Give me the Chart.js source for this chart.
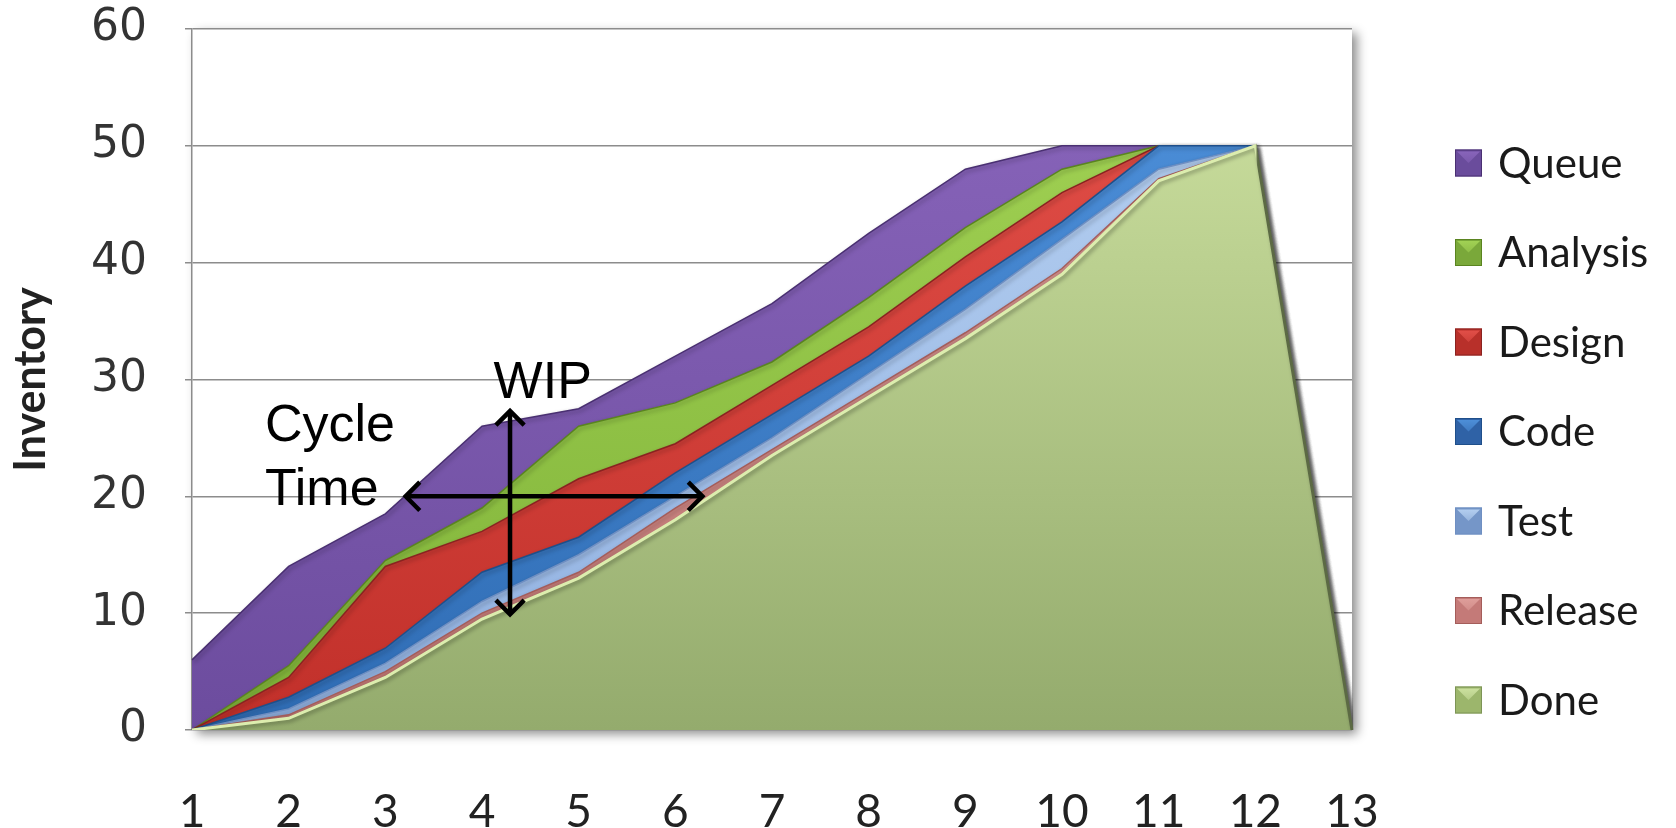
<!DOCTYPE html>
<html>
<head>
<meta charset="utf-8">
<script src="https://cdn.jsdelivr.net/npm/chart.js@4.4.1/dist/chart.umd.min.js"></script>
<style>
html,body{margin:0;padding:0;background:#ffffff;}
#wrap{width:1676px;height:828px;position:relative;}
</style>
</head>
<body>
<div id="wrap"><canvas id="c" width="1676" height="828"></canvas></div>
<script>
// ---- data (band thickness of each stage, stacked from Done upward) ----
const weeks    = ['1','2','3','4','5','6','7','8','9','10','11','12','13'];
const done     = [0, 1, 4.5, 9.5, 13, 18, 23.5, 28.5, 33.5, 39, 47, 50, 0];
const release  = [0, 0.3, 0.5, 0.5, 0.5, 1, 0.5, 0.5, 0.5, 0.5, 0.2, 0, 0];
const test     = [0, 0.5, 0.7, 1, 1.5, 1, 1, 1.5, 2, 2.5, 0.8, 0, 0];
const code     = [0, 1, 1.3, 2.5, 1.5, 2, 2, 1.5, 2, 1.5, 2, 0, 0];
const design   = [0, 1.7, 7, 3.5, 5, 2.5, 2.5, 2.5, 2.5, 2.5, 0, 0, 0];
const analysis = [0, 1, 0.5, 2, 4.5, 3.5, 2, 2.5, 2.5, 2, 0, 0, 0];
const queue    = [6, 8.5, 4, 7, 1.5, 4, 5, 5.5, 5, 2, 0, 0, 0];
const yTicks   = [0, 10, 20, 30, 40, 50, 60];
const seriesNames = ['Done','Release','Test','Code','Design','Analysis','Queue'];

// ---- styles ----
const styles = {
  Done:     {top:'#cfe3a2', bottom:'#94ab6d', line:'#dcedae', edge:'#5c6a44', legend:'#9cb66c'},
  Release:  {top:'#e0a09c', bottom:'#c07572', line:'#a45d5a', legend:'#c47a78'},
  Test:     {top:'#b8d2f2', bottom:'#90b0e0', line:'#6f8fc2', legend:'#7596c8'},
  Code:     {top:'#4f92dc', bottom:'#2f6cb4', line:'#1f4f8a', legend:'#2f62a6'},
  Design:   {top:'#e4514a', bottom:'#c1302a', line:'#8a2320', legend:'#b8302a'},
  Analysis: {top:'#a4d456', bottom:'#7fb238', line:'#5a8420', legend:'#7aa83a'},
  Queue:    {top:'#8a66bc', bottom:'#6c4c9e', line:'#4a3072', legend:'#6a4c9c'}
};
const seriesData = [done, release, test, code, design, analysis, queue];

function grad(name){
  return function(ctx){
    const chart = ctx.chart, a = chart.chartArea;
    const s = styles[name];
    if (!a) return s.bottom;
    const g = chart.ctx.createLinearGradient(0, a.top, 0, a.bottom);
    g.addColorStop(0, s.top);
    g.addColorStop(1, s.bottom);
    return g;
  };
}

const lastIdx = weeks.length - 1;
// Done outline: light highlight along the top, dark edge on the final drop
function doneBorder(c){
  const ch = c.chart, a = ch.chartArea, s = styles.Done;
  if (!a || !ch.scales.x) return s.line;
  const xp = ch.scales.x.getPixelForValue(lastIdx - 1);
  const t = Math.max(0, Math.min(1, (xp - a.left) / (a.right - a.left)));
  const g = ch.ctx.createLinearGradient(a.left, 0, a.right, 0);
  g.addColorStop(0, s.line);
  g.addColorStop(t, s.line);
  g.addColorStop(Math.min(1, t + 0.002), s.edge);
  g.addColorStop(1, s.edge);
  return g;
}

const datasets = seriesNames.map((n, i) => ({
  label: n,
  data: seriesData[i],
  fill: i === 0 ? 'origin' : '-1',
  backgroundColor: grad(n),
  borderColor: n === 'Done' ? doneBorder : styles[n].line,
  borderWidth: n === 'Done' ? 3 : 1.5,
  pointRadius: 0,
  tension: 0
}));

// ---- annotations (in data units) ----
const annot = {
  wip:   {x: 4.29, from: 9.9, to: 27.3},
  cycle: {y: 20, from: 3.21, to: 6.28},
  texts: [
    {text: 'WIP',   x: 4.12,  y: 28.4},
    {text: 'Cycle', x: 1.755, y: 24.7},
    {text: 'Time',  x: 1.755, y: 19.3}
  ]
};

const frameShadow = {
  id: 'frameShadow',
  beforeDraw(chart){
    const {ctx, chartArea: a} = chart;
    ctx.save();
    ctx.shadowColor = 'rgba(0,0,0,0.45)';
    ctx.shadowBlur = 10;
    ctx.shadowOffsetX = 5;
    ctx.shadowOffsetY = 4;
    ctx.fillStyle = '#ffffff';
    ctx.fillRect(a.left, a.top, a.right - a.left, a.bottom - a.top);
    ctx.restore();
  },
  beforeDatasetsDraw(chart){
    const ctx = chart.ctx;
    ctx.save();
    ctx.shadowColor = 'rgba(0,0,0,0.35)';
    ctx.shadowBlur = 4;
    ctx.shadowOffsetX = 2;
    ctx.shadowOffsetY = 2;
  },
  afterDatasetsDraw(chart){
    chart.ctx.restore();
  }
};

function arrowHead(ctx, x, y, ang){
  const L = 20, sp = Math.PI / 4;
  ctx.beginPath();
  ctx.moveTo(x - L * Math.cos(ang - sp), y - L * Math.sin(ang - sp));
  ctx.lineTo(x, y);
  ctx.lineTo(x - L * Math.cos(ang + sp), y - L * Math.sin(ang + sp));
  ctx.stroke();
}

const annotPlugin = {
  id: 'annot',
  afterDraw(chart){
    const {ctx, scales: {x, y}} = chart;
    const px = v => x.getPixelForValue(v - 1);
    ctx.save();
    ctx.strokeStyle = '#000';
    ctx.lineWidth = 4.5;
    ctx.lineJoin = 'miter';
    const vx = px(annot.wip.x), vy0 = y.getPixelForValue(annot.wip.from), vy1 = y.getPixelForValue(annot.wip.to);
    ctx.beginPath(); ctx.moveTo(vx, vy0 - 2); ctx.lineTo(vx, vy1 + 2); ctx.stroke();
    arrowHead(ctx, vx, vy1, -Math.PI / 2);
    arrowHead(ctx, vx, vy0, Math.PI / 2);
    const hy = y.getPixelForValue(annot.cycle.y), hx0 = px(annot.cycle.from), hx1 = px(annot.cycle.to);
    ctx.beginPath(); ctx.moveTo(hx0 + 2, hy); ctx.lineTo(hx1 - 2, hy); ctx.stroke();
    arrowHead(ctx, hx0, hy, Math.PI);
    arrowHead(ctx, hx1, hy, 0);
    ctx.fillStyle = '#000';
    ctx.font = '52px "Liberation Sans", Arial, sans-serif';
    ctx.textAlign = 'left';
    ctx.textBaseline = 'alphabetic';
    annot.texts.forEach(t => ctx.fillText(t.text, px(t.x), y.getPixelForValue(t.y)));
    ctx.restore();
  }
};

const legendPlugin = {
  id: 'sideLegend',
  afterDraw(chart){
    const ctx = chart.ctx;
    const o = chart.options.plugins.sideLegend;
    const items = chart.data.datasets.map(d => d.label).reverse();
    ctx.save();
    ctx.font = o.font;
    ctx.textBaseline = 'middle';
    ctx.textAlign = 'left';
    items.forEach((name, i) => {
      const cy = o.y0 + i * o.step;
      const s = styles[name];
      const bx = o.x, by = cy - o.box / 2;
      const g = ctx.createLinearGradient(0, by, 0, by + o.box);
      g.addColorStop(0, s.top); g.addColorStop(1, s.legend);
      ctx.fillStyle = s.legend;
      ctx.fillRect(bx, by, o.box, o.box);
      ctx.fillStyle = g;
      ctx.beginPath();
      ctx.moveTo(bx + 2, by + 2); ctx.lineTo(bx + o.box / 2, by + o.box / 2); ctx.lineTo(bx + o.box - 2, by + 2); ctx.closePath();
      ctx.fill();
      ctx.strokeStyle = s.line === styles.Done.line ? '#7d9456' : s.line; ctx.lineWidth = 1;
      ctx.strokeRect(bx + 0.5, by + 0.5, o.box - 1, o.box - 1);
      ctx.fillStyle = '#1a1a1a';
      ctx.fillText(name, o.x + o.box + o.gap, cy + 1);
    });
    ctx.restore();
  }
};

new Chart(document.getElementById('c'), {
  type: 'line',
  data: {labels: weeks, datasets: datasets},
  plugins: [frameShadow, annotPlugin, legendPlugin],
  options: {
    responsive: false,
    animation: false,
    devicePixelRatio: 1,
    layout: {padding: {top: 29, right: 324, bottom: 0, left: 0}},
    plugins: {
      legend: {display: false},
      tooltip: {enabled: false},
      sideLegend: {x: 1455, y0: 163, step: 89.5, box: 27, gap: 16, font: '42px Lato, "Noto Sans", sans-serif'}
    },
    scales: {
      x: {
        type: 'category',
        offset: false,
        grid: {display: false, drawTicks: false},
        border: {display: false},
        ticks: {font: {family: 'Lato', size: 46}, color: '#222', padding: 55, maxRotation: 0, autoSkip: false},
        afterFit(s){ s.height = 98; s.paddingTop = 0; s.paddingBottom = 0; }
      },
      y: {
        stacked: true,
        min: 0, max: 60,
        afterBuildTicks(s){ s.ticks = yTicks.map(v => ({value: v})); },
        ticks: {font: {family: 'DejaVu Sans', size: 44}, color: '#333', padding: 38},
        grid: {color: '#8c8c8c', lineWidth: 1.5, tickLength: 7, drawTicks: true},
        border: {color: '#8c8c8c', width: 1.5},
        title: {display: true, text: 'Inventory', font: {family: 'Lato', weight: 'bold', size: 43}, color: '#222', padding: {top: 5, bottom: 0}},
        afterFit(s){ s.width = 192; s.paddingTop = 0; s.paddingBottom = 0; }
      }
    }
  }
});
</script>
</body>
</html>
